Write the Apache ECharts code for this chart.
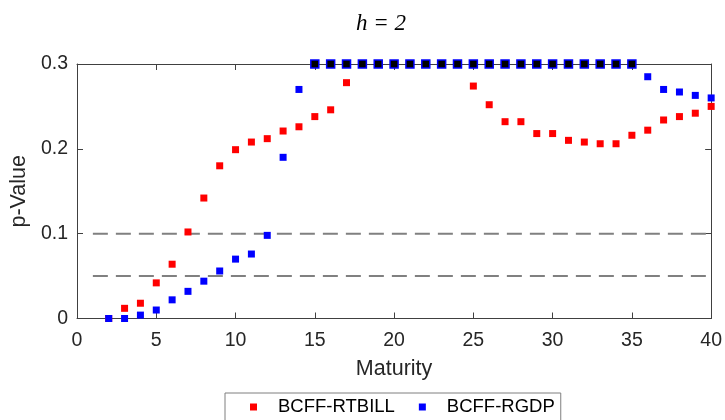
<!DOCTYPE html>
<html>
<head>
<meta charset="utf-8">
<script src="https://cdn.jsdelivr.net/npm/echarts@6/dist/echarts.min.js"></script>
<style>html,body{margin:0;padding:0;background:#fff;}#c{width:725px;height:420px;}</style>
</head>
<body>
<div id="c"></div>
<script>
const maturity = [2,3,4,5,6,7,8,9,10,11,12,13,14,15,16,17,18,19,20,21,22,23,24,25,26,27,28,29,30,31,32,33,34,35,36,37,38,39,40];
const rtbill = [0,0.012,0.018,0.042,0.064,0.102,0.142,0.180,0.199,0.208,0.212,0.221,0.226,0.238,0.246,0.278,0.3,0.3,0.3,0.3,0.3,0.3,0.3,0.274,0.252,0.232,0.232,0.218,0.218,0.210,0.208,0.206,0.206,0.216,0.222,0.234,0.238,0.242,0.250];
const rgdp = [0,0,0.004,0.010,0.022,0.032,0.044,0.056,0.070,0.076,0.098,0.190,0.270,0.3,0.3,0.3,0.3,0.3,0.3,0.3,0.3,0.3,0.3,0.3,0.3,0.3,0.3,0.3,0.3,0.3,0.3,0.3,0.3,0.3,0.285,0.270,0.267,0.263,0.260];
const capped = [15,16,17,18,19,20,21,22,23,24,25,26,27,28,29,30,31,32,33,34,35];
const cappedValue = 0.3;
const thresholds = [0.1, 0.05];
const thresholdRange = [1, 40];
const seriesNames = ['BCFF-RTBILL', 'BCFF-RGDP'];
const xTicks = {min: 0, max: 40, interval: 5};
const yTicks = {min: 0, max: 0.3, interval: 0.1};

const font = 'Liberation Sans, Arial, Helvetica, sans-serif';
const axisColor = '#404040';
const chart = echarts.init(document.getElementById('c'));

const series = [];
thresholds.forEach(t => {
  series.push({
    type: 'line', silent: true, symbol: 'none',
    data: thresholdRange.map(x => [x, t]),
    lineStyle: {color: '#808080', width: 2, type: [15, 8]},
    z: 1
  });
});
series.push({
  name: seriesNames[0], type: 'scatter', symbol: 'rect', symbolSize: 7, clip: false,
  data: maturity.map((m, i) => [m, rtbill[i]]),
  itemStyle: {color: '#ff0000', opacity: 1}, z: 3
});
series.push({
  name: seriesNames[1], type: 'scatter', symbol: 'rect', symbolSize: 7, clip: false,
  data: maturity.map((m, i) => [m, rgdp[i]]),
  itemStyle: {color: '#0000ff', opacity: 1}, z: 4
});
series.push({
  type: 'scatter', symbol: 'rect', symbolSize: 8, clip: false,
  data: capped.map(m => [m, cappedValue]),
  itemStyle: {color: '#000000', borderColor: '#0000ff', borderWidth: 1.5, opacity: 1}, z: 5
});

const lineStyle = {show: true, onZero: false, lineStyle: {color: axisColor, width: 1}};
const tickStyle = {show: true, inside: true, length: 6, lineStyle: {color: axisColor, width: 1}};

chart.setOption({
  animation: false,
  backgroundColor: '#ffffff',
  title: {
    text: 'h = 2', left: 351, top: 7,
    textStyle: {fontFamily: 'Liberation Serif, DejaVu Serif, serif', fontStyle: 'italic', fontWeight: 'normal', fontSize: 23, color: '#000'}
  },
  grid: {left: 76, right: 13, top: 64, bottom: 101.5, containLabel: false},
  legend: {
    data: seriesNames, left: 225, top: 393,
    orient: 'horizontal', icon: 'rect', itemWidth: 7, itemHeight: 7, itemGap: 24,
    padding: [4, 6, 14, 25],
    borderColor: '#7f7f7f', borderWidth: 1, backgroundColor: '#fff',
    textStyle: {fontFamily: font, fontSize: 18.5, color: '#000', padding: [0, 0, 0, 16], lineHeight: 20}
  },
  xAxis: [{
    type: 'value', min: xTicks.min, max: xTicks.max, interval: xTicks.interval,
    name: 'Maturity', nameLocation: 'middle', nameGap: 40,
    nameTextStyle: {fontFamily: font, fontSize: 21.5, color: '#262626'},
    axisLine: lineStyle, axisTick: tickStyle,
    axisLabel: {fontFamily: font, fontSize: 19.5, color: '#262626', margin: 12},
    splitLine: {show: false}
  }, {
    type: 'value', position: 'top', min: xTicks.min, max: xTicks.max, interval: xTicks.interval,
    axisLine: lineStyle, axisTick: tickStyle,
    axisLabel: {show: false}, splitLine: {show: false}
  }],
  yAxis: [{
    type: 'value', min: yTicks.min, max: yTicks.max, interval: yTicks.interval,
    name: 'p-Value', nameLocation: 'middle', nameGap: 36,
    nameTextStyle: {fontFamily: font, fontSize: 21.5, color: '#262626'},
    axisLine: lineStyle, axisTick: tickStyle,
    axisLabel: {fontFamily: font, fontSize: 19.5, color: '#262626', margin: 9},
    splitLine: {show: false}
  }, {
    type: 'value', position: 'right', min: yTicks.min, max: yTicks.max, interval: yTicks.interval,
    axisLine: lineStyle, axisTick: tickStyle,
    axisLabel: {show: false}, splitLine: {show: false}
  }],
  series: series
});
</script>
</body>
</html>
